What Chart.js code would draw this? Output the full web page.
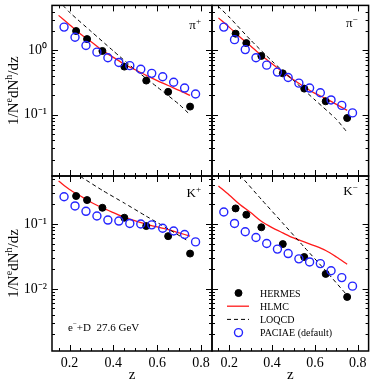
<!DOCTYPE html>
<html>
<head>
<meta charset="utf-8">
<script src="https://cdn.jsdelivr.net/npm/chart.js@4.4.1/dist/chart.umd.min.js"></script>
<style>
  html, body { margin: 0; padding: 0; background: #fff; }
  #wrap { position: relative; width: 374px; height: 381px; }
  #wrap canvas { position: absolute; left: 0; top: 0; }
</style>
</head>
<body>
<div id="wrap">
  <canvas id="c0" width="374" height="381"></canvas>
  <canvas id="c1" width="374" height="381"></canvas>
  <canvas id="c2" width="374" height="381"></canvas>
  <canvas id="c3" width="374" height="381"></canvas>
</div>
<script>
// z bins
const zHermes = [0.23, 0.28, 0.35, 0.45, 0.55, 0.65, 0.75];
const zPaciae = [0.175, 0.225, 0.275, 0.325, 0.375, 0.425, 0.475, 0.525, 0.575, 0.625, 0.675, 0.725, 0.775];
const zHlmc = [0.15, 0.2, 0.25, 0.3, 0.35, 0.4, 0.45, 0.5, 0.55, 0.6, 0.65, 0.7, 0.75];

// pi+
const piPlusHermes = [2.0, 1.5, 0.98, 0.56, 0.34, 0.227, 0.134];
const piPlusPaciae = [2.3, 1.6, 1.19, 0.94, 0.77, 0.65, 0.58, 0.51, 0.44, 0.39, 0.32, 0.26, 0.21];
const piPlusHlmc = [3.5, 2.5, 1.8, 1.35, 1.0, 0.78, 0.61, 0.5, 0.41, 0.34, 0.285, 0.24, 0.2];
const zLoqcdPiPlus = [0.17, 0.2, 0.3, 0.4, 0.5, 0.6, 0.7, 0.75];
const piPlusLoqcd = [5.0, 3.9, 1.95, 0.98, 0.5, 0.27, 0.145, 0.1];

// pi-
const piMinusHermes = [1.82, 1.3, 0.82, 0.44, 0.255, 0.162, 0.089];
const piMinusPaciae = [2.3, 1.47, 1.03, 0.77, 0.59, 0.46, 0.38, 0.31, 0.26, 0.22, 0.17, 0.14, 0.107];
const piMinusHlmc = [3.2, 2.3, 1.62, 1.17, 0.84, 0.62, 0.46, 0.35, 0.27, 0.215, 0.18, 0.145, 0.117];
const zLoqcdPiMinus = [0.147, 0.2, 0.3, 0.4, 0.5, 0.6, 0.7, 0.745];
const piMinusLoqcd = [4.9, 3.3, 1.45, 0.68, 0.34, 0.17, 0.085, 0.056];

// K+
const kPlusHermes = [0.27, 0.234, 0.178, 0.125, 0.093, 0.065, 0.035];
const kPlusPaciae = [0.263, 0.19, 0.157, 0.133, 0.115, 0.111, 0.102, 0.1, 0.097, 0.086, 0.078, 0.069, 0.053];
const kPlusHlmc = [0.46, 0.34, 0.27, 0.215, 0.178, 0.15, 0.127, 0.112, 0.1, 0.09, 0.082, 0.073, 0.065];
const zLoqcdKPlus = [0.25, 0.35, 0.45, 0.55, 0.65, 0.74];
const kPlusLoqcd = [0.54, 0.33, 0.21, 0.132, 0.084, 0.055];

// K-
const kMinusHermes = [0.174, 0.139, 0.089, 0.049, 0.031, 0.017, 0.0075];
const kMinusPaciae = [0.153, 0.102, 0.076, 0.062, 0.05, 0.041, 0.035, 0.029, 0.026, 0.0245, 0.019, 0.0149, 0.011];
const kMinusHlmc = [0.385, 0.28, 0.2, 0.15, 0.11, 0.088, 0.073, 0.061, 0.053, 0.046, 0.039, 0.031, 0.024];
const zLoqcdKMinus = [0.25, 0.35, 0.45, 0.55, 0.65, 0.745];
const kMinusLoqcd = [0.57, 0.24, 0.103, 0.044, 0.019, 0.0083];

// axis ticks
const zTicks = [0.2, 0.4, 0.6, 0.8];
const decadeValues = [1, 0.1, 0.01];
const decadeLabels = ['10\u2070', '10\u207B\u00B9', '10\u207B\u00B2'];

const seriesNames = ['HERMES', 'HLMC', 'LOQCD', 'PACIAE (default)'];
const FONT = "'Liberation Serif', 'Times New Roman', serif";
const BLUE = '#2525ff';
const RED = '#ff1a1a';

function pts(xs, ys) {
  return xs.map((x, i) => ({ x: x, y: ys[i] }));
}

// draw text pieces [text, isSup] in a row starting at x
function drawRich(ctx, parts, x, y, size) {
  parts.forEach(([t, sup]) => {
    ctx.font = (sup ? Math.round(size * 0.68) : size) + 'px ' + FONT;
    ctx.fillText(t, x, sup ? y - size * 0.42 : y);
    x += ctx.measureText(t).width;
  });
  return x;
}
function richWidth(ctx, parts, size) {
  let w = 0;
  parts.forEach(([t, sup]) => {
    ctx.font = (sup ? Math.round(size * 0.68) : size) + 'px ' + FONT;
    w += ctx.measureText(t).width;
  });
  return w;
}

// inward ticks, frame, panel labels, y title, legend
const decor = {
  id: 'decor',
  afterDatasetsDraw(chart, args, opts) {
    const ctx = chart.ctx;
    const a = chart.chartArea;
    const xs = chart.scales.x, ys = chart.scales.y;
    ctx.save();
    ctx.strokeStyle = '#000';
    ctx.lineWidth = 1;
    ctx.beginPath();
    for (let i = 2; i <= 17; i++) {
      const px = Math.round(xs.getPixelForValue(i * 0.05)) + 0.5;
      if (px <= a.left + 1 || px >= a.right - 1) continue;
      const len = (i % 4 === 0) ? 6 : 3;
      ctx.moveTo(px, a.bottom); ctx.lineTo(px, a.bottom - len);
      ctx.moveTo(px, a.top); ctx.lineTo(px, a.top + len);
    }
    for (let e = -4; e <= 1; e++) {
      for (let m = 1; m <= 9; m++) {
        const v = m * Math.pow(10, e);
        if (v <= ys.min || v >= ys.max) continue;
        const py = Math.round(ys.getPixelForValue(v)) + 0.5;
        const len = m === 1 ? 6 : 3;
        ctx.moveTo(a.left, py); ctx.lineTo(a.left + len, py);
        ctx.moveTo(a.right, py); ctx.lineTo(a.right - len, py);
      }
    }
    ctx.stroke();
    ctx.lineWidth = 1.5;
    ctx.strokeRect(a.left, a.top, a.right - a.left, a.bottom - a.top);

    ctx.fillStyle = '#000';
    ctx.textBaseline = 'alphabetic';
    ctx.textAlign = 'left';

    // particle label
    const lab = [[opts.name, false], [opts.sup, true]];
    const lw = richWidth(ctx, lab, 13);
    drawRich(ctx, lab, a.right - 11 - lw, a.top + opts.labelY, 13);

    // y axis title
    if (opts.yTitle) {
      const parts = [['1/N', false], ['e', true], ['dN', false], ['h', true], ['/dz', false]];
      const w = richWidth(ctx, parts, 15);
      ctx.save();
      ctx.translate(18, (a.top + a.bottom) / 2 + w / 2);
      ctx.rotate(-Math.PI / 2);
      drawRich(ctx, parts, 0, 0, 15);
      ctx.restore();
    }

    if (opts.note) {
      drawRich(ctx, [['e', false], ['\u2212', true], ['+D  27.6 GeV', false]], a.left + 16, a.bottom - 20, 11);
    }

    if (opts.legend) {
      const ds = chart.data.datasets;
      const x0 = a.left + 15, x1 = a.left + 37, tx = a.left + 48;
      const y0 = a.top + 117, dy = 13.2;
      ctx.textBaseline = 'middle';
      ds.forEach((d, i) => {
        const y = y0 + i * dy;
        ctx.save();
        if (d.showLine) {
          ctx.strokeStyle = d.borderColor;
          ctx.lineWidth = d.borderWidth;
          ctx.setLineDash(d.borderDash || []);
          ctx.beginPath();
          ctx.moveTo(x0, y); ctx.lineTo(x1, y);
          ctx.stroke();
        } else {
          ctx.beginPath();
          ctx.arc((x0 + x1) / 2 + 0.5, y, d.pointRadius, 0, Math.PI * 2);
          if (d.pointBackgroundColor !== 'transparent') {
            ctx.fillStyle = d.pointBackgroundColor;
            ctx.fill();
          }
          ctx.strokeStyle = d.pointBorderColor;
          ctx.lineWidth = d.pointBorderWidth;
          ctx.stroke();
        }
        ctx.restore();
        ctx.fillStyle = '#000';
        ctx.font = '10px ' + FONT;
        ctx.fillText(d.label, tx, y + 1);
      });
    }
    ctx.restore();
  }
};

function makeDatasets(hermes, hlmc, zLo, loqcd, paciae) {
  return [
    { label: seriesNames[0], data: pts(zHermes, hermes), showLine: false,
      pointRadius: 3.5, pointBackgroundColor: '#000', pointBorderColor: '#000', pointBorderWidth: 1, order: 1 },
    { label: seriesNames[1], data: pts(zHlmc, hlmc), showLine: true, borderColor: RED, borderWidth: 1.3,
      pointRadius: 0, tension: 0.3, clip: 0, order: 3 },
    { label: seriesNames[2], data: pts(zLo, loqcd), showLine: true, borderColor: '#000', borderWidth: 1,
      borderDash: [4, 3], pointRadius: 0, tension: 0.2, clip: 0, order: 2 },
    { label: seriesNames[3], data: pts(zPaciae, paciae), showLine: false,
      pointRadius: 4, pointBackgroundColor: 'transparent', pointBorderColor: BLUE, pointBorderWidth: 1.4, order: 0 }
  ];
}

const panels = [
  { id: 'c0', ds: makeDatasets(piPlusHermes, piPlusHlmc, zLoqcdPiPlus, piPlusLoqcd, piPlusPaciae),
    pad: { left: 0, top: 2, right: 162, bottom: 205 }, yMin: 0.0112, yMax: 5, showY: true, showX: false,
    decor: { name: '\u03C0', sup: '+', labelY: 24, yTitle: true } },
  { id: 'c1', ds: makeDatasets(piMinusHermes, piMinusHlmc, zLoqcdPiMinus, piMinusLoqcd, piMinusPaciae),
    pad: { left: 212, top: 2, right: 2, bottom: 205 }, yMin: 0.0112, yMax: 5, showY: false, showX: false,
    decor: { name: '\u03C0', sup: '\u2212', labelY: 22 } },
  { id: 'c2', ds: makeDatasets(kPlusHermes, kPlusHlmc, zLoqcdKPlus, kPlusLoqcd, kPlusPaciae),
    pad: { left: 0, top: 176, right: 162, bottom: 0 }, yMin: 0.0011, yMax: 0.55, showY: true, showX: true,
    decor: { name: 'K', sup: '+', labelY: 21, note: true, yTitle: true } },
  { id: 'c3', ds: makeDatasets(kMinusHermes, kMinusHlmc, zLoqcdKMinus, kMinusLoqcd, kMinusPaciae),
    pad: { left: 212, top: 176, right: 2, bottom: 0 }, yMin: 0.0011, yMax: 0.55, showY: false, showX: true,
    decor: { name: 'K', sup: '\u2212', labelY: 19, legend: true } }
];

panels.forEach(p => {
  new Chart(document.getElementById(p.id), {
    type: 'scatter',
    data: { datasets: p.ds },
    plugins: [decor],
    options: {
      responsive: false,
      animation: false,
      layout: { padding: p.pad },
      scales: {
        x: {
          type: 'linear', min: 0.12, max: 0.85, display: p.showX,
          grid: { display: false, drawTicks: false },
          border: { display: false },
          afterBuildTicks: s => { s.ticks = zTicks.map(v => ({ value: v })); },
          afterFit: s => { s.height = p.showX ? 30 : 0; },
          ticks: {
            padding: 4, color: '#000', font: { family: FONT, size: 14 },
            callback: v => v.toFixed(1)
          },
          title: { display: true, text: 'z', color: '#000', padding: 0,
                   font: { family: FONT, size: 15, lineHeight: 0.75 } }
        },
        y: {
          type: 'logarithmic', min: p.yMin, max: p.yMax, display: p.showY,
          grid: { display: false, drawTicks: false },
          border: { display: false },
          afterBuildTicks: s => {
            s.ticks = decadeValues.filter(v => v > s.min && v < s.max).map(v => ({ value: v }));
          },
          afterFit: s => { s.width = p.showY ? 52 : 0; s.paddingTop = 0; s.paddingBottom = 0; },
          ticks: {
            padding: 5, color: '#000', font: { family: FONT, size: 14 },
            callback: v => {
              const i = decadeValues.findIndex(d => Math.abs(d - v) < d * 1e-6);
              return i >= 0 ? decadeLabels[i] : '';
            }
          }
        }
      },
      plugins: {
        legend: { display: false },
        tooltip: { enabled: false },
        decor: p.decor
      }
    }
  });
});
</script>
</body>
</html>
